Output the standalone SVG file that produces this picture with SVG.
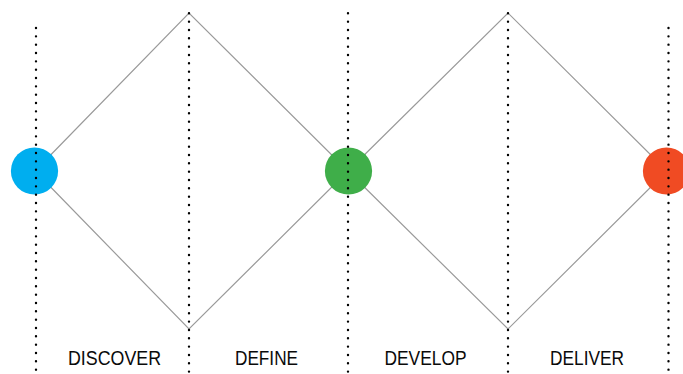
<svg xmlns="http://www.w3.org/2000/svg" width="683" height="374" viewBox="0 0 683 374">
  <style>
    .edge { fill: none; stroke: #9a9a9a; stroke-width: 1.2; }
    .guide { fill: none; stroke: #000; stroke-width: 2.4; stroke-linecap: round; stroke-dasharray: 0 8.333; }
    .label { font-family: "Liberation Sans", Arial, sans-serif; font-size: 20px; fill: #0a0a0a; text-anchor: middle; }
  </style>
  <rect width="683" height="374" fill="#fff"/>

  <!-- double diamond outline -->
  <g id="connectors">
    <polyline class="edge" points="35,171 189,13 348,171 189,329 35,171"/>
    <polyline class="edge" points="348,171 508,13 667,171 508,329 348,171"/>
  </g>

  <!-- stage milestones -->
  <g id="node-start"><circle cx="34.5" cy="171" r="23.6" fill="#00aeef"/></g>
  <g id="node-mid"><circle cx="348.5" cy="171" r="23.6" fill="#3fae49"/></g>
  <g id="node-end"><circle cx="666.5" cy="171" r="23.6" fill="#f04b23"/></g>

  <!-- dotted phase dividers -->
  <g id="dividers">
    <line class="guide" x1="36" y1="28" x2="36" y2="374"/>
    <line class="guide" x1="189" y1="13.3" x2="189" y2="374"/>
    <line class="guide" x1="348" y1="13.3" x2="348" y2="374"/>
    <line class="guide" x1="508" y1="13.3" x2="508" y2="374"/>
    <line class="guide" x1="668.5" y1="28" x2="668.5" y2="374"/>
  </g>

  <!-- phase names -->
  <g id="labels">
    <text class="label" x="114.5" y="364.5" textLength="93" lengthAdjust="spacingAndGlyphs">DISCOVER</text>
    <text class="label" x="266.5" y="364.5" textLength="63" lengthAdjust="spacingAndGlyphs">DEFINE</text>
    <text class="label" x="425.5" y="364.5" textLength="82" lengthAdjust="spacingAndGlyphs">DEVELOP</text>
    <text class="label" x="587" y="364.5" textLength="74" lengthAdjust="spacingAndGlyphs">DELIVER</text>
  </g>
</svg>
